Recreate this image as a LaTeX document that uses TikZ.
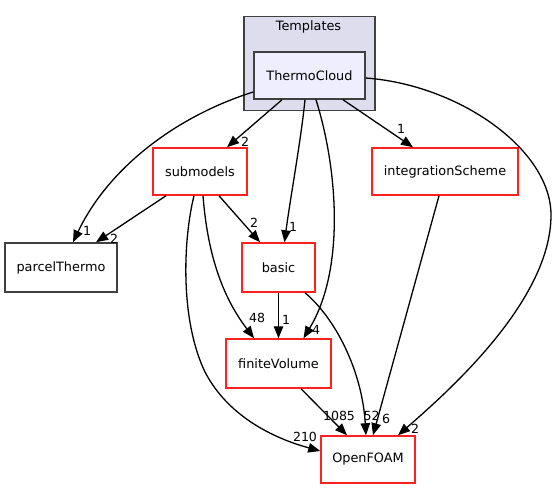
\documentclass[tikz,border=0pt]{standalone}
\usepackage{fontspec}
\setmainfont{DejaVu Sans}
\usetikzlibrary{arrows.meta}
\definecolor{clusterfill}{HTML}{DDDDEE}
\definecolor{curfill}{HTML}{EEEEFF}
\definecolor{dirborder}{HTML}{404040}
\definecolor{dirred}{HTML}{FF2020}
\begin{document}
\begin{tikzpicture}[x=1bp,y=-1bp,
  box/.style={rectangle, inner sep=0pt, fill=white, line width=1.5bp, font=\fontsize{12.9}{15}\selectfont},
  reddir/.style={box, draw=dirred},
  plaindir/.style={box, draw=dirborder},
  edge/.style={draw=black, line width=1.3bp, -{Triangle[length=12bp,width=9.5bp]}},
  lbl/.style={font=\fontsize{12.6}{14}\selectfont, inner sep=0pt}]
\useasboundingbox (0,0) rectangle (557,489);
\fill[white] (0,0) rectangle (557,489);

% cluster
\node[draw=dirborder, fill=clusterfill, line width=1.5bp, minimum width=131bp, minimum height=94bp, inner sep=0pt, anchor=north west] (Templates) at (243,16) {};
\node[font=\fontsize{12.9}{15}\selectfont, inner sep=0pt] (TemplatesLabel) at (308.5,27) {Templates};

% nodes
\node[plaindir, fill=curfill, minimum width=111bp, minimum height=47bp] (TC) at (309.5,75.5) {ThermoCloud};
\node[reddir, minimum width=94bp, minimum height=47bp] (submodels) at (200,171.5) {submodels};
\node[plaindir, minimum width=112bp, minimum height=49bp] (parcelThermo) at (61,267.5) {parcelThermo};
\node[reddir, minimum width=73bp, minimum height=49bp] (basic) at (278.5,267.5) {basic};
\node[reddir, minimum width=146bp, minimum height=47bp] (integrationScheme) at (445,171.5) {integrationScheme};
\node[reddir, minimum width=105bp, minimum height=49bp] (finiteVolume) at (278.5,363.5) {finiteVolume};
\node[reddir, minimum width=94bp, minimum height=47bp] (OpenFOAM) at (368,459.5) {OpenFOAM};

% edges
\draw[edge] ([yshift=-16.5bp]TC.west) .. controls (180,115) and (110,165) .. ([xshift=12bp]parcelThermo.north);
\draw[edge] ([xshift=-27.5bp]TC.south) -- ([xshift=27bp]submodels.north);
\draw[edge] ([xshift=-4.5bp]TC.south) .. controls (301,140) and (290,200) .. ([xshift=6bp]basic.north);
\draw[edge] ([xshift=6.5bp]TC.south) .. controls (338,170) and (345,270) .. ([xshift=25bp]finiteVolume.north);
\draw[edge] ([xshift=33.5bp]TC.south) -- ([xshift=-32bp]integrationScheme.north);
\draw[edge] ([yshift=-2.5bp]TC.east) .. controls (460,85) and (551,150) .. (551,215) .. controls (551,300) and (450,390) .. ([xshift=30bp]OpenFOAM.north);
\draw[edge] ([xshift=-34bp]submodels.south) -- ([xshift=35bp]parcelThermo.north);
\draw[edge] ([xshift=19bp]submodels.south) -- ([xshift=-18.5bp]basic.north);
\draw[edge] ([xshift=3bp]submodels.south) .. controls (208,260) and (225,300) .. ([xshift=-24.5bp]finiteVolume.north);
\draw[edge] ([xshift=-6bp]submodels.south) .. controls (183,240) and (180,320) .. (205,372) .. controls (230,420) and (280,440) .. ([yshift=8.5bp]OpenFOAM.west);
\draw[edge] (basic.south) -- (finiteVolume.north);
\draw[edge] ([xshift=26.5bp]basic.south) .. controls (335,318) and (362,370) .. ([xshift=-2bp]OpenFOAM.north);
\draw[edge] ([xshift=22.5bp]finiteVolume.south) -- ([xshift=-21bp]OpenFOAM.north);
\draw[edge] ([xshift=-6bp]integrationScheme.south) -- ([xshift=5bp]OpenFOAM.north);

% edge labels
\node[lbl] (l1) at (87,231) {1};
\node[lbl] (l2) at (245,142) {2};
\node[lbl] (l3) at (293,227) {1};
\node[lbl] (l4) at (316,330) {4};
\node[lbl] (l5) at (401,129) {1};
\node[lbl] (l6) at (415,429) {2};
\node[lbl] (l7) at (114,239) {2};
\node[lbl] (l8) at (254,223) {2};
\node[lbl] (l9) at (257,318) {48};
\node[lbl] (l10) at (305,437) {210};
\node[lbl] (l11) at (286,320) {1};
\node[lbl] (l12) at (371.5,416) {52};
\node[lbl] (l13) at (339,416) {1085};
\node[lbl] (l14) at (386,419) {6};
\end{tikzpicture}
\end{document}
